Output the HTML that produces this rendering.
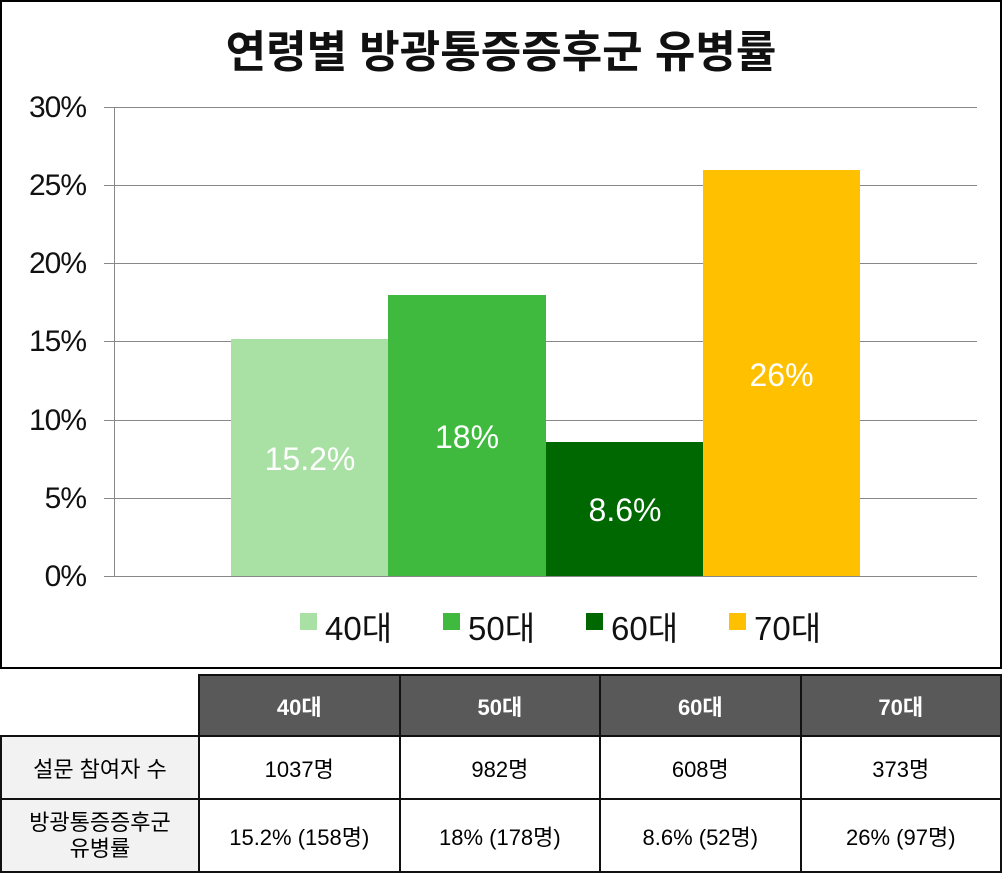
<!DOCTYPE html>
<html><head><meta charset="utf-8"><style>
body{margin:0;width:1002px;height:879px;background:#fff;position:relative;overflow:hidden;font-family:"Liberation Sans","Noto Sans CJK KR",sans-serif}
div{position:absolute;box-sizing:border-box}
.g{left:104px;width:873px;height:1px;background:#888}
.yl{left:14px;width:72px;text-align:right;font-size:30px;line-height:30px;color:#111;letter-spacing:-1px}
.lab{color:#fff;font-size:32px;text-align:center;line-height:32px}
.sq{width:17px;height:17px;top:613px}
.lt{top:611px;font-size:33px;line-height:36px;color:#111}
table{position:absolute;left:0;top:674px;border-collapse:collapse;font-size:22px}
td{border:2px solid #111;text-align:center;padding:0}
th{background:#595959;color:#fff;border:2px solid #111;font-size:22px}
</style></head><body>
<div style="left:0;top:0;width:1002px;height:669px;border:2px solid #000"></div>
<div style="left:0;top:16px;width:1002px;text-align:center;font-size:44px;font-weight:bold;color:#111">연령별 방광통증증후군 유병률</div>
<div class="g" style="top:107px"></div><div class="g" style="top:185px"></div><div class="g" style="top:263px"></div><div class="g" style="top:341px"></div><div class="g" style="top:420px"></div><div class="g" style="top:498px"></div><div class="g" style="top:576px"></div>
<div style="left:114px;top:107px;width:1px;height:470px;background:#888"></div>
<div class="yl" style="top:93px">30%</div><div class="yl" style="top:171px">25%</div><div class="yl" style="top:249px">20%</div><div class="yl" style="top:327px">15%</div><div class="yl" style="top:406px">10%</div><div class="yl" style="top:484px">5%</div><div class="yl" style="top:562px">0%</div>
<div style="left:231px;top:339px;width:158px;height:237px;background:#a9e0a3"></div>
<div style="left:388px;top:295px;width:158px;height:281px;background:#3fba3f"></div>
<div style="left:546px;top:442px;width:158px;height:134px;background:#006800"></div>
<div style="left:703px;top:170px;width:157px;height:406px;background:#ffc000"></div>
<div class="lab" style="left:231px;top:443px;width:158px">15.2%</div>
<div class="lab" style="left:388px;top:421px;width:158px">18%</div>
<div class="lab" style="left:546px;top:494px;width:158px">8.6%</div>
<div class="lab" style="left:703px;top:359px;width:157px">26%</div>
<div class="sq" style="left:300px;background:#a9e0a3"></div><div class="lt" style="left:325px">40대</div>
<div class="sq" style="left:443px;background:#3fba3f"></div><div class="lt" style="left:468px">50대</div>
<div class="sq" style="left:586px;background:#006800"></div><div class="lt" style="left:611px">60대</div>
<div class="sq" style="left:729px;background:#ffc000"></div><div class="lt" style="left:754px">70대</div>
<table>
<tr style="height:61px"><td style="width:201px;border:none;border-bottom:2px solid #111"></td><th style="width:200px">40대</th><th style="width:200px">50대</th><th style="width:200px">60대</th><th style="width:200px">70대</th></tr>
<tr style="height:63px"><td style="background:#f2f2f2">설문 참여자 수</td><td>1037명</td><td>982명</td><td>608명</td><td>373명</td></tr>
<tr style="height:73px"><td style="background:#f2f2f2;line-height:26px">방광통증증후군<br>유병률</td><td>15.2% (158명)</td><td>18% (178명)</td><td>8.6% (52명)</td><td>26% (97명)</td></tr>
</table>
</body></html>
